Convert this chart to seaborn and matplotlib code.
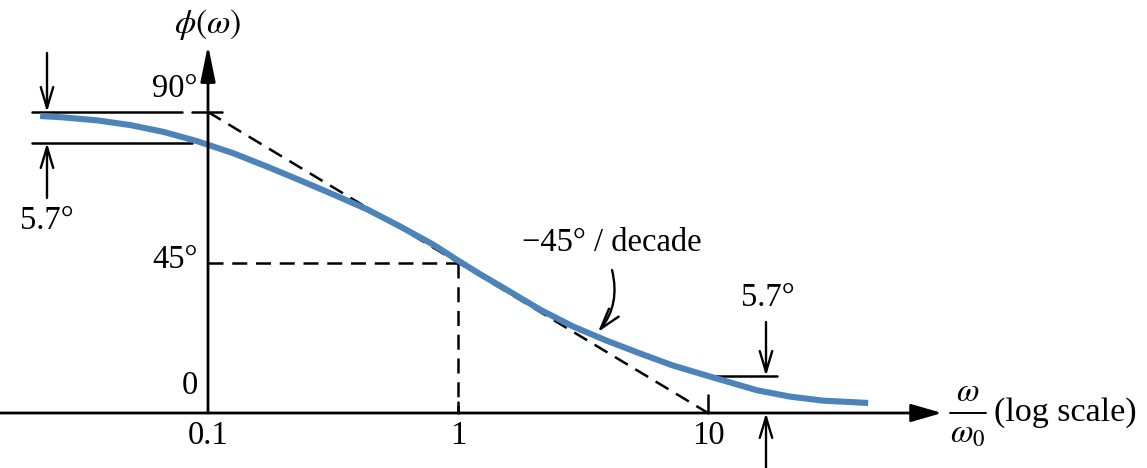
import numpy as np
import pandas as pd
import matplotlib
matplotlib.use("Agg")
import matplotlib.pyplot as plt
import seaborn as sns

# ---- data ----
omega = [0.0213, 0.0263, 0.036, 0.0488, 0.066, 0.0903, 0.126, 0.172, 0.233,
         0.316, 0.433, 0.586, 0.794, 0.99, 1.22, 1.57, 2.13, 2.88, 3.94, 5.35,
         7.24, 10.5, 15.7, 21.3, 28.8, 43.7]
phase = [88.8, 88.4, 87.5, 86.1, 84.1, 81.3, 77.7, 73.7, 69.6,
         65.4, 60.9, 55.8, 50.4, 45.8, 41.6, 36.8, 30.9, 25.9, 21.6, 17.8,
         14.2, 10.6, 6.8, 4.9, 3.7, 3.0]
asym_omega = [0.1, 10]
asym_phase = [90, 0]
tick_omega = [0.1, 1, 10]
tick_omega_labels = ["0.1", "1", "10"]
tick_phase = [0, 45, 90]
tick_phase_labels = ["0", "45°", "90°"]

sns.set_theme(style="white")
plt.rcParams["font.family"] = ["Liberation Serif", "DejaVu Serif"]
plt.rcParams["mathtext.fontset"] = "stix"
plt.rcParams["text.color"] = "black"

fig = plt.figure(figsize=(11.47, 4.68), dpi=100)
ax = fig.add_axes([0, 0, 1, 1])
ax.set_xscale("log")

# pixel -> data helpers (layout only)
def X(px):
    return 10 ** ((px - 208) / 250.0 - 1)

def Y(py):
    return (413 - py) / (301 / 90.0)

ax.set_xlim(X(0), X(1147))
ax.set_ylim(Y(468), Y(0))
ax.axis("off")

BLUE = "#4C84BA"
K = "black"
FS = 23.5
LW = 1.8

# main curve
df = pd.DataFrame({"omega": omega, "phase": phase})
sns.lineplot(data=df, x="omega", y="phase", ax=ax, color=BLUE, linewidth=4.4,
             solid_capstyle="butt", solid_joinstyle="round", zorder=3)

dash = (0, (6, 3.5))
# asymptote
ax.plot(asym_omega, asym_phase, color=K, lw=LW, linestyle=dash, zorder=2)
# 45 deg guides
ax.plot([tick_omega[0], tick_omega[1]], [tick_phase[1], tick_phase[1]], color=K, lw=LW, linestyle=dash)
ax.plot([tick_omega[1], tick_omega[1]], [tick_phase[1], 0], color=K, lw=LW, linestyle=dash)

# axes with arrows
ax.annotate("", xy=(X(942), 0), xytext=(X(0), 0),
            arrowprops=dict(arrowstyle="-|>,head_length=1.9,head_width=0.55",
                            mutation_scale=10, color=K, lw=2.0, shrinkA=0, shrinkB=0))
ax.annotate("", xy=(tick_omega[0], Y(45)), xytext=(tick_omega[0], 0),
            arrowprops=dict(arrowstyle="-|>,head_length=2.2,head_width=0.45",
                            mutation_scale=10, color=K, lw=2.0, shrinkA=0, shrinkB=0))

# ticks
ax.plot([X(192), X(222)], [90, 90], color=K, lw=LW)
ax.plot([tick_omega[1]] * 2, [0, Y(402)], color=K, lw=LW)
ax.plot([tick_omega[2]] * 2, [0, Y(395)], color=K, lw=LW)

# reference lines for 5.7 deg marks (left)
ax.plot([X(32), X(182)], [90, 90], color=K, lw=LW)
ax.plot([X(32), X(192)], [Y(143), Y(143)], color=K, lw=LW)
arr = dict(arrowstyle="->,head_length=1.5,head_width=0.45", mutation_scale=10,
           color=K, lw=1.7, shrinkA=0, shrinkB=0)
ax.annotate("", xy=(X(47), 90), xytext=(X(47), Y(53)), arrowprops=arr)
ax.annotate("", xy=(X(47), Y(143)), xytext=(X(47), Y(198)), arrowprops=arr)
ax.text(X(47), Y(221), "5.7°", fontsize=FS, ha="center", va="center")

# right 5.7 deg mark
ax.plot([X(712), X(777)], [Y(376), Y(376)], color=K, lw=LW)
ax.annotate("", xy=(X(766), Y(376)), xytext=(X(766), Y(322)), arrowprops=arr)
ax.annotate("", xy=(X(766), 0), xytext=(X(766), Y(470)), arrowprops=arr,
            annotation_clip=False)
ax.text(X(768), Y(298), "5.7°", fontsize=FS, ha="center", va="center")

# slope annotation
ax.text(X(612), Y(243), "−45° / decade", fontsize=FS, ha="center", va="center")
ax.annotate("", xy=(X(598), Y(332)), xytext=(X(612), Y(270)),
            arrowprops=dict(arrowstyle="->,head_length=1.5,head_width=0.45",
                            mutation_scale=10, color=K, lw=1.7,
                            connectionstyle="arc3,rad=-0.25", shrinkA=0, shrinkB=0))

# tick labels
for w, lab in zip(tick_omega, tick_omega_labels):
    ax.text(w, Y(436), lab, fontsize=FS, ha="center", va="center")
label_y = {0: Y(386), 45: Y(260), 90: Y(89)}
for p, lab in zip(tick_phase, tick_phase_labels):
    ax.text(X(198), label_y[p], lab, fontsize=FS, ha="right", va="center")

# axis titles
ax.text(tick_omega[0], Y(24), r"$\phi(\omega)$", fontsize=FS + 1, ha="center", va="center")
ax.text(X(968), Y(393), r"$\omega$", fontsize=FS, ha="center", va="center")
ax.plot([X(950), X(986)], [Y(413), Y(413)], color=K, lw=1.4)
ax.text(X(968), Y(434), r"$\omega_0$", fontsize=FS, ha="center", va="center")
ax.text(X(994), 0, "(log scale)", fontsize=FS + 1, ha="left", va="center")

fig.savefig("out.png", dpi=100)
